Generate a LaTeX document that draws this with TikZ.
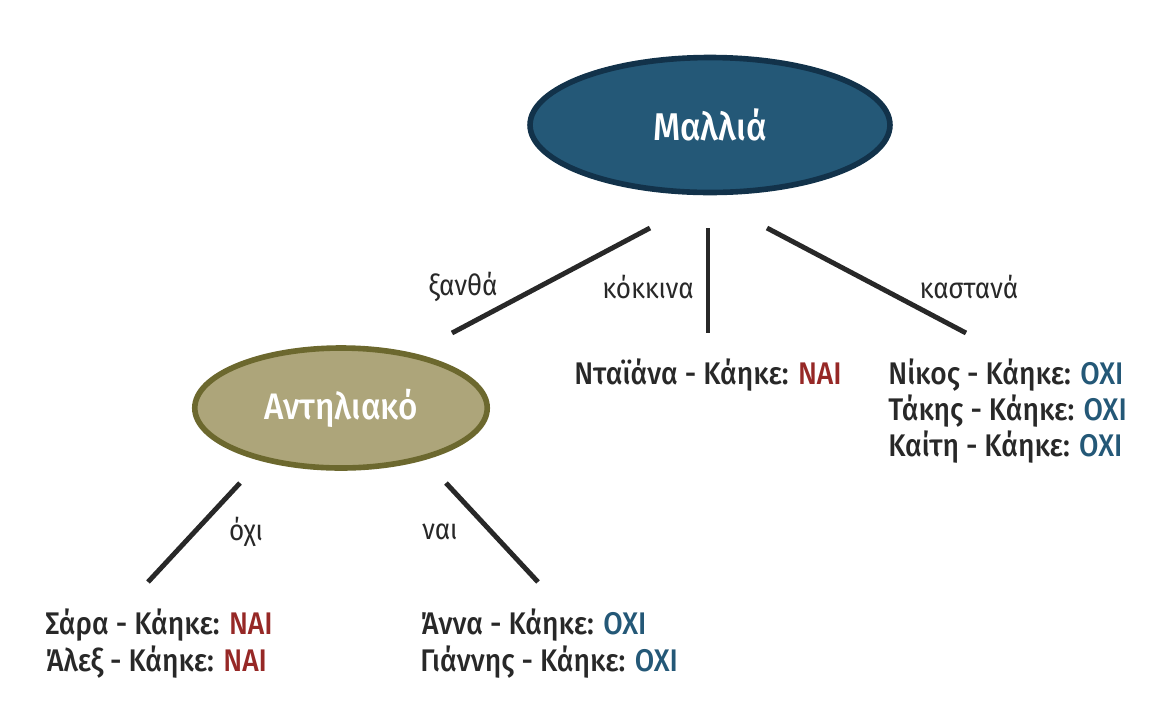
\documentclass[tikz,border=0pt]{standalone}
\usepackage{fontspec}
\setmainfont{Fira Sans}[FakeStretch=0.9]
\newfontfamily\leaffont{Fira Sans Medium}[FakeStretch=0.9]
\usepackage{tikz}
\usetikzlibrary{shapes.geometric, positioning}
\usepackage{xcolor}
\definecolor{rootblue}{RGB}{36,88,119}
\definecolor{rootedge}{RGB}{18,50,74}
\definecolor{sunfill}{RGB}{173,165,122}
\definecolor{sunedge}{RGB}{108,104,46}
\definecolor{yesred}{RGB}{150,40,38}
\definecolor{inkgray}{RGB}{40,40,40}

\tikzset{
  rootnode/.style={ellipse, draw=rootedge, fill=rootblue, line width=3.2pt, minimum width=7.2cm, minimum height=2.7cm, text=white, font=\leaffont\fontsize{22}{26}\selectfont},
  splitnode/.style={ellipse, draw=sunedge, fill=sunfill, line width=3.2pt, minimum width=5.85cm, minimum height=2.4cm, text=white, font=\leaffont\fontsize{21}{25}\selectfont},
  branch/.style={line width=2.8pt, draw=inkgray},
  edgelabel/.style={text=inkgray, font=\fontsize{16.5}{19}\selectfont},
  leaf/.style={anchor=west, inner sep=0pt, text=inkgray, font=\leaffont\fontsize{17.8}{21}\selectfont},
}
\newcommand{\yes}{\textcolor{yesred}{ΝΑΙ}}
\newcommand{\no}{\textcolor{rootblue}{ΟΧΙ}}

\begin{document}
\begin{tikzpicture}[x=0.02cm, y=-0.02cm]
    \useasboundingbox (0,0) rectangle (1150,711);

    % Decision nodes
    \node[rootnode] (hair) at (710,125) {Μαλλιά};
    \node[splitnode] (sun) at (341,408) {Αντηλιακό};

    % Branches from the root
    \coordinate (blondtop) at (650,228);
    \coordinate (blondend) at (452,333);
    \coordinate (redtop) at (708,228);
    \coordinate (redend) at (708,333);
    \coordinate (browntop) at (767,228);
    \coordinate (brownend) at (966,333);
    \draw[branch] (blondtop) -- (blondend);
    \draw[branch] (redtop) -- (redend);
    \draw[branch] (browntop) -- (brownend);
    \node[edgelabel] (blondlbl) at (463,287) {ξανθά};
    \node[edgelabel] (redlbl) at (648,287) {κόκκινα};
    \node[edgelabel] (brownlbl) at (969,287) {καστανά};

    % Branches from the sunscreen node
    \coordinate (notop) at (240,483);
    \coordinate (noend) at (148,582);
    \coordinate (yestop) at (446,483);
    \coordinate (yesend) at (538,582);
    \draw[branch] (notop) -- (noend);
    \draw[branch] (yestop) -- (yesend);
    \node[edgelabel] (nolbl) at (246,532) {όχι};
    \node[edgelabel] (yeslbl) at (440,532) {ναι};

    % Leaves
    \node[leaf, anchor=center] (diana) at (708,375) {Νταϊάνα - Κάηκε: \yes};
    \foreach \who [count=\i] in {Νίκος, Τάκης, Καίτη} {
        \node[leaf] (brown\i) at (888,{375+36*(\i-1)}) {\who{} - Κάηκε: \no};
    }
    \foreach \who [count=\i] in {Σάρα, Άλεξ} {
        \node[leaf] (nosun\i) at (45,{625+37*(\i-1)}) {\who{} - Κάηκε: \yes};
    }
    \foreach \who [count=\i] in {Άννα, Γιάννης} {
        \node[leaf] (yessun\i) at (420,{625+37*(\i-1)}) {\who{} - Κάηκε: \no};
    }
\end{tikzpicture}
\end{document}
